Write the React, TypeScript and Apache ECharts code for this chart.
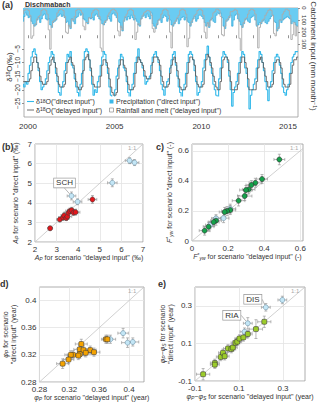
import React, { useEffect, useRef } from "react";
import * as echarts from "echarts";

const FONT = '"Liberation Sans", Arial, sans-serif';

// ---- Panel (a): monthly series ----
const START_YEAR = 1999;
const START_MONTH = 7; // first value's month (0-based)

const deltaDirect: number[] = [
  -15, -18, -19, -17, -18, -14, -11, -8, -6, -5, -7, -10,
  -13, -17, -20, -19, -18, -16, -13, -10, -8, -6, -7, -10,
  -14, -17, -21, -22, -19, -17, -13, -10, -7, -8, -6, -11,
  -12, -16, -19, -21, -23, -18, -14, -9, -6, -5, -6, -9,
  -13, -18, -22, -20, -21, -17, -15, -11, -8, -6, -7, -11,
  -14, -19, -22, -24, -23, -20, -15, -12, -9, -7, -8, -12,
  -13, -17, -21, -23, -20, -18, -14, -10, -8, -5, -9, -10,
  -12, -15, -18, -17, -16, -15, -11, -8, -7, -6, -8, -10,
  -13, -18, -20, -22, -19, -17, -16, -12, -9, -7, -6, -11,
  -15, -19, -21, -23, -20, -18, -14, -10, -7, -6, -7, -9,
  -13, -17, -22, -21, -19, -17, -12, -9, -7, -4, -8, -11,
  -14, -18, -20, -22, -24, -16, -12, -8, -6, -7, -8, -10,
  -15, -20, -26, -21, -19, -17, -14, -10, -8, -6, -7, -12,
  -14, -19, -27, -22, -20, -18, -16, -12, -9, -6, -7, -10,
  -13, -17, -20, -24, -19, -17, -13, -10, -8, -7, -8, -11,
  -14, -19, -21, -22, -20, -18, -14, -10, -8, -7, -6, -6,
];

const deltaDelayed: number[] = [
  -16, -17, -17, -17, -17, -17, -16, -13, -10, -8, -8, -10,
  -12, -15, -17, -18, -18, -18, -17, -14, -11, -9, -8, -10,
  -12, -15, -18, -19, -19, -19, -18, -14, -10, -9, -8, -10,
  -11, -14, -17, -19, -20, -20, -19, -13, -9, -8, -7, -9,
  -12, -15, -18, -19, -19, -19, -19, -15, -11, -9, -9, -10,
  -12, -16, -19, -21, -22, -22, -21, -16, -11, -9, -9, -11,
  -12, -15, -18, -20, -20, -20, -19, -14, -10, -8, -9, -10,
  -11, -13, -15, -16, -16, -16, -14, -10, -8, -8, -8, -9,
  -11, -15, -17, -19, -19, -19, -18, -14, -11, -9, -8, -10,
  -13, -16, -19, -20, -20, -20, -19, -14, -10, -8, -8, -9,
  -11, -15, -18, -19, -19, -19, -18, -13, -9, -7, -8, -10,
  -12, -15, -17, -19, -20, -20, -17, -12, -9, -8, -8, -9,
  -13, -17, -20, -20, -20, -20, -18, -14, -10, -8, -8, -10,
  -12, -16, -20, -20, -20, -20, -20, -17, -12, -9, -8, -10,
  -12, -15, -17, -19, -19, -19, -18, -14, -10, -9, -9, -10,
  -12, -16, -18, -19, -19, -19, -18, -14, -11, -9, -9, -8,
];

const precipitation: number[] = [
  90, 110, 70, 40, 60, 80, 70, 110, 130, 150, 140, 100,
  80, 120, 90, 60, 50, 90, 100, 90, 140, 160, 120, 110,
  100, 70, 60, 50, 70, 60, 80, 120, 110, 150, 170, 90,
  110, 130, 80, 70, 40, 60, 50, 90, 100, 120, 130, 80,
  90, 80, 100, 60, 50, 70, 90, 100, 130, 140, 120, 100,
  70, 90, 110, 50, 40, 60, 80, 110, 120, 160, 190, 110,
  80, 100, 70, 90, 60, 80, 100, 90, 110, 140, 150, 90,
  70, 60, 80, 50, 70, 90, 40, 130, 150, 170, 140, 100,
  100, 120, 80, 60, 70, 110, 90, 100, 140, 150, 130, 110,
  90, 130, 100, 80, 70, 100, 80, 110, 120, 150, 120, 90,
  70, 110, 90, 60, 60, 70, 90, 120, 150, 130, 160, 100,
  90, 110, 120, 60, 40, 50, 40, 80, 150, 170, 110, 100,
  80, 60, 150, 100, 60, 50, 90, 110, 140, 160, 130, 100,
  90, 110, 120, 80, 70, 60, 100, 150, 140, 120, 130, 110,
  100, 120, 130, 110, 90, 70, 60, 110, 120, 190, 170, 100,
  120, 100, 90, 80, 70, 80, 90, 130, 110, 120, 140, 150,
];

const rainfallMelt: number[] = [
  60, 50, 20, 10, 10, 20, 60, 250, 230, 140, 130, 90,
  70, 60, 20, 10, 10, 20, 50, 180, 340, 150, 110, 100,
  90, 40, 20, 10, 10, 20, 70, 200, 210, 140, 160, 90,
  100, 70, 20, 10, 10, 20, 40, 150, 180, 120, 120, 80,
  80, 40, 20, 10, 10, 20, 70, 330, 360, 130, 110, 100,
  60, 40, 20, 10, 10, 20, 40, 190, 230, 150, 180, 100,
  70, 50, 20, 10, 10, 20, 60, 260, 200, 130, 140, 90,
  60, 40, 30, 20, 20, 30, 60, 170, 200, 160, 130, 100,
  90, 50, 20, 10, 10, 20, 60, 200, 330, 140, 120, 100,
  80, 60, 20, 10, 10, 20, 50, 320, 250, 140, 110, 90,
  60, 50, 20, 10, 10, 20, 60, 200, 250, 120, 150, 100,
  80, 40, 30, 10, 10, 20, 70, 220, 230, 150, 100, 90,
  70, 30, 30, 20, 10, 20, 50, 250, 350, 150, 120, 90,
  80, 50, 20, 10, 10, 20, 50, 140, 330, 160, 120, 100,
  90, 60, 40, 20, 10, 20, 60, 210, 230, 180, 160, 100,
  100, 50, 30, 10, 10, 20, 60, 260, 220, 120, 230, 150,
];

const yearTicks = [2000, 2001, 2002, 2003, 2004, 2005, 2006, 2007, 2008, 2009, 2010, 2011, 2012, 2013, 2014, 2015];
const yearLabels = [2000, 2005, 2010, 2015];
const deltaTicks = [-25, -20, -15, -10, -5];
const inputTicks = [0, 100, 200, 300];

// ---- Panels (b)-(e): [x, y, xError, yError] ----
const bBlue = [
  [6.38, 6.15, 0.2, 0.15], [6.61, 6.05, 0.2, 0.15], [5.58, 5.02, 0.22, 0.2],
  [3.69, 4.35, 0.2, 0.2], [3.97, 4.05, 0.2, 0.15],
];
const bRed = [
  [4.66, 4.17, 0.2, 0.2], [2.7, 2.7, 0.1, 0.1], [3.15, 3.15, 0.15, 0.12],
  [3.3, 3.25, 0.2, 0.15], [3.35, 3.35, 0.15, 0.15], [3.45, 3.22, 0.15, 0.12],
  [3.5, 3.3, 0.2, 0.15], [3.55, 3.5, 0.2, 0.15], [3.62, 3.58, 0.2, 0.15],
  [3.7, 3.62, 0.2, 0.15], [3.78, 3.5, 0.2, 0.15], [3.88, 3.52, 0.2, 0.15],
];
const cGreen = [
  [0.484, 0.542, 0.03, 0.035], [0.388, 0.412, 0.03, 0.03], [0.351, 0.387, 0.035, 0.03],
  [0.329, 0.372, 0.03, 0.03], [0.314, 0.343, 0.035, 0.03], [0.299, 0.339, 0.035, 0.03],
  [0.292, 0.299, 0.04, 0.03], [0.258, 0.268, 0.035, 0.035], [0.212, 0.206, 0.03, 0.03],
  [0.194, 0.199, 0.03, 0.03], [0.181, 0.193, 0.03, 0.03], [0.133, 0.135, 0.03, 0.03],
  [0.12, 0.126, 0.03, 0.03], [0.092, 0.095, 0.03, 0.03], [0.07, 0.069, 0.03, 0.03],
];
const cBlue = [
  [0.212, 0.215, 0.03, 0.03], [0.175, 0.152, 0.03, 0.03],
  [0.133, 0.15, 0.025, 0.025], [0.1, 0.106, 0.025, 0.025],
];
const dOrange = [
  [0.336, 0.336, 0.008, 0.007], [0.334, 0.328, 0.008, 0.006], [0.339, 0.327, 0.008, 0.006],
  [0.348, 0.327, 0.008, 0.006], [0.342, 0.323, 0.008, 0.006], [0.353, 0.324, 0.008, 0.006],
  [0.334, 0.321, 0.008, 0.006], [0.332, 0.319, 0.008, 0.006], [0.325, 0.32, 0.008, 0.006],
  [0.322, 0.32, 0.008, 0.006], [0.319, 0.313, 0.007, 0.006], [0.311, 0.307, 0.008, 0.007],
  [0.369, 0.343, 0.006, 0.006], [0.371, 0.343, 0.006, 0.006],
];
const dBlue = [
  [0.375, 0.343, 0.007, 0.006], [0.392, 0.352, 0.007, 0.007],
  [0.398, 0.338, 0.008, 0.007], [0.405, 0.339, 0.008, 0.006],
];
const eGreen = [
  [-0.063, -0.064, 0.03, 0.03], [-0.01, -0.004, 0.02, 0.02], [-0.01, -0.013, 0.02, 0.02],
  [0.017, 0.028, 0.02, 0.02], [0.027, 0.05, 0.02, 0.02], [0.035, 0.032, 0.02, 0.02],
  [0.05, 0.073, 0.02, 0.02], [0.065, 0.07, 0.02, 0.02], [0.072, 0.078, 0.02, 0.02],
  [0.084, 0.103, 0.02, 0.02], [0.092, 0.109, 0.02, 0.02], [0.102, 0.126, 0.02, 0.02],
  [0.12, 0.132, 0.02, 0.02], [0.14, 0.15, 0.02, 0.02], [0.177, 0.176, 0.03, 0.05],
  [0.215, 0.215, 0.03, 0.03],
];
const eBlue = [
  [0.297, 0.331, 0.02, 0.02], [0.222, 0.292, 0.02, 0.02],
  [0.14, 0.207, 0.02, 0.03], [0.125, 0.162, 0.02, 0.02],
];
const bTicks = [2, 3, 4, 5, 6, 7];
const cTicks = [0, 0.2, 0.4, 0.6];
const dTicks = [0.28, 0.32, 0.36, 0.4];
const eTicks = [-0.1, 0.1, 0.3];
const bLabels: Record<number, string> = { 3: "SCH" };
const eLabels: Record<number, string> = { 1: "DIS", 2: "RIA" };

function monthX(i: number) {
  return START_YEAR + (START_MONTH + i) / 12;
}
function toStep(arr: number[]) {
  const pts = arr.map((v, i) => [monthX(i), v]);
  pts.push([monthX(arr.length), arr[arr.length - 1]]);
  return pts;
}

const RICH = {
  i: { fontStyle: "italic", fontSize: 7, fontFamily: FONT, color: "#333", lineHeight: 8 },
  sub: { fontSize: 5, fontFamily: FONT, color: "#333", lineHeight: 5, verticalAlign: "bottom" },
  sup: { fontSize: 5, fontFamily: FONT, color: "#333", lineHeight: 5, verticalAlign: "top" },
  isub: { fontSize: 5, fontStyle: "italic", fontFamily: FONT, color: "#333", lineHeight: 5, verticalAlign: "bottom" },
};

function errorBars(data: number[][], xi: number, yi: number) {
  return {
    type: "custom",
    xAxisIndex: xi,
    yAxisIndex: yi,
    data,
    z: 3,
    encode: { x: 0, y: 1 },
    renderItem: (_p: any, api: any) => {
      const x = api.value(0), y = api.value(1), xe = api.value(2), ye = api.value(3);
      const l = api.coord([x - xe, y]);
      const r = api.coord([x + xe, y]);
      const t = api.coord([x, y + ye]);
      const b = api.coord([x, y - ye]);
      const c = 1.5;
      const style = { stroke: "#9a9a9a", lineWidth: 0.7 };
      const ln = (x1: number, y1: number, x2: number, y2: number) => ({ type: "line", shape: { x1, y1, x2, y2 }, style });
      return {
        type: "group",
        children: [
          ln(l[0], l[1], r[0], r[1]),
          ln(l[0], l[1] - c, l[0], l[1] + c),
          ln(r[0], r[1] - c, r[0], r[1] + c),
          ln(t[0], t[1], b[0], b[1]),
          ln(t[0] - c, t[1], t[0] + c, t[1]),
          ln(b[0] - c, b[1], b[0] + c, b[1]),
        ],
      };
    },
  };
}

function scatter(data: number[][], xi: number, yi: number, color: string, border: string, symbol = "circle", labels?: Record<number, string>, offsets?: Record<number, number[]>) {
  return {
    type: "scatter",
    xAxisIndex: xi,
    yAxisIndex: yi,
    symbol,
    symbolSize: 5,
    z: 5,
    itemStyle: { color, borderColor: border, borderWidth: 0.6, opacity: 1 },
    data: data.map((d, i) =>
      labels && labels[i]
        ? {
            value: [d[0], d[1]],
            label: {
              show: true,
              formatter: labels[i],
              position: "inside",
              fontSize: 8,
              fontFamily: FONT,
              color: "#333",
              backgroundColor: "#fff",
              borderColor: "#999",
              borderWidth: 0.7,
              padding: [1, 2, 0, 2],
            },
            labelLine: { show: true, lineStyle: { color: "#999", width: 0.7 } },
          }
        : [d[0], d[1]]
    ),
    labelLayout: (p: any) => {
      const o = offsets && offsets[p.dataIndex];
      return o ? { dx: o[0], dy: o[1] } : {};
    },
  };
}

function diag(min: number, max: number, xi: number, yi: number) {
  return {
    type: "line",
    xAxisIndex: xi,
    yAxisIndex: yi,
    data: [[min, min], [max, max]],
    symbol: "none",
    silent: true,
    z: 2,
    lineStyle: { color: "#c4c4c4", width: 0.8 },
  };
}

const tickLabel = { fontSize: 8, fontFamily: FONT, color: "#333", margin: 3 };
const split = { show: true, lineStyle: { color: "#e3e3e3", width: 0.8 } };

function panelAxis(grid: number, min: number, max: number, custom: number[], name: string, isY: boolean, nameGap: number) {
  const ax: any = {
    type: "value",
    gridIndex: grid,
    min,
    max,
    axisLine: { show: false },
    axisTick: { show: false, customValues: custom },
    axisLabel: { ...tickLabel, customValues: custom, hideOverlap: false, formatter: (v: number) => String(+v.toFixed(3)) },
    splitLine: split,
    name,
    nameLocation: "middle",
    nameGap,
    nameTextStyle: { fontSize: 7, fontFamily: FONT, color: "#333", lineHeight: 8, rich: RICH },
  };
  if (isY) ax.nameRotate = 90;
  return ax;
}

function buildOption() {
  const gridBorder = { show: true, borderColor: "#9a9a9a", borderWidth: 0.8, backgroundColor: "transparent" };
  const grids = [
    { left: 24, top: 8, width: 274, height: 109, ...gridBorder },
    { left: 35, top: 144, width: 108, height: 98, ...gridBorder },
    { left: 192, top: 144, width: 111, height: 97, ...gridBorder },
    { left: 37, top: 287, width: 107, height: 95, ...gridBorder },
    { left: 195, top: 287, width: 110, height: 94, ...gridBorder },
  ];

  const xAxis: any[] = [
    {
      type: "value",
      gridIndex: 0,
      min: 1999.77,
      max: 2015.58,
      axisLine: { show: false },
      axisTick: { show: true, customValues: yearTicks, length: 3, lineStyle: { color: "#777", width: 0.8 } },
      axisLabel: { ...tickLabel, customValues: yearLabels, margin: 5, formatter: (v: number) => String(v) },
      splitLine: { show: false },
    },
    panelAxis(1, 2, 7, bTicks, '{i|A}{isub|P} for scenario "delayed input" (‰)', false, 10),
    panelAxis(2, 0, 0.615, cTicks, '{i|F}{sup|*}{isub|yw} for scenario "delayed input" (-)', false, 10),
    panelAxis(3, 0.28, 0.42, dTicks, '{i|φ}{isub|P} for scenario "delayed input" (year)', false, 9),
    panelAxis(4, -0.1, 0.4, eTicks, '{i|φ}{isub|P}−{i|φ}{isub|S} for scenario "delayed input" (year)', false, 9),
  ];

  const yAxis: any[] = [
    {
      type: "value",
      gridIndex: 0,
      min: -30,
      max: 10,
      axisLine: { show: false },
      axisTick: { show: true, customValues: deltaTicks, length: 2, lineStyle: { color: "#777", width: 0.8 } },
      axisLabel: { ...tickLabel, fontSize: 6.5, customValues: deltaTicks, hideOverlap: false, rotate: 90, margin: 3, formatter: (v: number) => String(v).replace("-", "−") },
      splitLine: { show: false },
    },
    {
      type: "value",
      gridIndex: 0,
      position: "right",
      inverse: true,
      min: 0,
      max: 900,
      axisLine: { show: false },
      axisTick: { show: true, customValues: inputTicks, length: 2, lineStyle: { color: "#777", width: 0.8 } },
      axisLabel: { ...tickLabel, fontSize: 6, customValues: inputTicks, hideOverlap: false, rotate: -90, margin: 3 },
      splitLine: { show: false },
    },
    panelAxis(1, 2, 7, bTicks, '{i|A}{isub|P} for scenario "direct input" (‰)', true, 16),
    panelAxis(2, 0, 0.645, cTicks, '{i|F}{sup|*}{isub|yw} for scenario "direct input" (-)', true, 17),
    panelAxis(3, 0.28, 0.42, dTicks, '{i|φ}{isub|P} for scenario\n"direct input" (year)', true, 16),
    panelAxis(4, -0.1, 0.4, eTicks, '{i|φ}{isub|P}−{i|φ}{isub|S} for scenario\n"direct input" (year)', true, 14),
  ];

  const series: any[] = [
    {
      type: "line",
      xAxisIndex: 0,
      yAxisIndex: 1,
      data: toStep(precipitation),
      step: "end",
      symbol: "none",
      lineStyle: { color: "#2aa5d8", width: 0.6 },
      areaStyle: { color: "#6accf2", opacity: 1 },
      z: 1,
    },
    {
      type: "line",
      xAxisIndex: 0,
      yAxisIndex: 1,
      data: toStep(rainfallMelt),
      step: "end",
      symbol: "none",
      lineStyle: { color: "#ababab", width: 0.9 },
      z: 2,
    },
    {
      type: "line",
      xAxisIndex: 0,
      yAxisIndex: 0,
      data: toStep(deltaDirect),
      step: "end",
      symbol: "none",
      lineStyle: { color: "#33b9ea", width: 1.1 },
      z: 3,
    },
    {
      type: "line",
      xAxisIndex: 0,
      yAxisIndex: 0,
      data: toStep(deltaDelayed),
      step: "end",
      symbol: "none",
      lineStyle: { color: "#5e5e5e", width: 0.9 },
      z: 4,
    },
    // (b)
    diag(2, 7, 1, 2),
    errorBars([...bBlue, ...bRed], 1, 2),
    scatter(bBlue, 1, 2, "#c3e6f6", "#6b8ea3", "circle", bLabels, { 3: [-7, -13] }),
    scatter(bRed, 1, 2, "#e3161b", "#3a3a3a"),
    // (c)
    diag(0, 0.615, 2, 3),
    errorBars([...cGreen, ...cBlue], 2, 3),
    scatter(cBlue, 2, 3, "#c3e6f6", "#6b8ea3"),
    scatter(cGreen, 2, 3, "#14a24a", "#2a2a2a"),
    // (d)
    diag(0.28, 0.42, 3, 4),
    errorBars([...dOrange, ...dBlue], 3, 4),
    scatter(dBlue, 3, 4, "#c3e6f6", "#6b8ea3"),
    scatter(dOrange, 3, 4, "#f5a300", "#3a3a3a", "roundRect"),
    // (e)
    diag(-0.1, 0.4, 4, 5),
    errorBars([...eGreen, ...eBlue], 4, 5),
    scatter(eBlue, 4, 5, "#c3e6f6", "#6b8ea3", "circle", eLabels, { 1: [-13, -8], 2: [-16, -8] }),
    scatter(eGreen, 4, 5, "#9ccc2a", "#3a3a3a", "roundRect"),
  ];

  const txt = (x: number, y: number, text: string, extra: any = {}) => ({
    type: "text",
    x,
    y,
    z: 100,
    style: { text, fontSize: 7, fontFamily: FONT, fill: "#333", verticalAlign: "middle", ...extra },
  });
  const supRich = {
    sup: { fontSize: 5, fontFamily: FONT, fill: "#333", lineHeight: 5, verticalAlign: "top" },
  };

  const graphic: any[] = [
    txt(2, 5, "(a)", { fontSize: 9, fontWeight: "bold" }),
    txt(25, 4, "Dischmabach", { fontSize: 7, fontWeight: "bold" }),
    {
      type: "text",
      x: 9,
      y: 67,
      rotation: Math.PI / 2,
      z: 100,
      style: { text: "δ{sup|18}O(‰)", fontSize: 8, fontFamily: FONT, fill: "#333", align: "center", verticalAlign: "middle", rich: supRich },
    },
    {
      type: "text",
      x: 313,
      y: 56,
      rotation: -Math.PI / 2,
      z: 100,
      style: { text: "Catchment input (mm month{sup|−1})", fontSize: 8, fontFamily: FONT, fill: "#333", align: "center", verticalAlign: "middle", rich: supRich },
    },
    // legend
    { type: "rect", z: 90, shape: { x: 25.5, y: 96.5, width: 200, height: 19.5 }, style: { fill: "#fff" } },
    { type: "line", z: 100, shape: { x1: 27, y1: 101.5, x2: 34, y2: 101.5 }, style: { stroke: "#33b9ea", lineWidth: 1.1 } },
    { type: "line", z: 100, shape: { x1: 27, y1: 110, x2: 34, y2: 110 }, style: { stroke: "#5e5e5e", lineWidth: 0.9 } },
    txt(36, 101.5, 'δ{sup|18}O("direct input")', { rich: supRich }),
    txt(36, 110, 'δ{sup|18}O("delayed input")', { rich: supRich }),
    { type: "rect", z: 100, shape: { x: 109.5, y: 99.5, width: 4, height: 4 }, style: { fill: "#3cb8e8" } },
    { type: "rect", z: 100, shape: { x: 109.5, y: 108, width: 4, height: 4 }, style: { fill: "#fff", stroke: "#999", lineWidth: 0.8 } },
    txt(116, 101.5, 'Precipitation ("direct input")'),
    txt(116, 110, 'Rainfall and melt ("delayed input")'),
    // panel letters
    txt(2, 147, "(b)", { fontSize: 9, fontWeight: "bold" }),
    txt(156, 147, "c)", { fontSize: 9, fontWeight: "bold" }),
    txt(0, 284, "d)", { fontSize: 9, fontWeight: "bold" }),
    txt(158, 284, "e)", { fontSize: 9, fontWeight: "bold" }),
    // 1:1 labels
    txt(128, 148, "1:1", { fontSize: 6, fill: "#aaa" }),
    txt(290, 148, "1:1", { fontSize: 6, fill: "#aaa" }),
    txt(128, 291, "1:1", { fontSize: 6, fill: "#aaa" }),
    txt(291, 291, "1:1", { fontSize: 6, fill: "#aaa" }),
  ];

  return {
    animation: false,
    backgroundColor: "#fff",
    textStyle: { fontFamily: FONT },
    grid: grids,
    xAxis,
    yAxis,
    series,
    graphic,
  };
}

export default function App() {
  const ref = useRef<HTMLDivElement>(null);
  useEffect(() => {
    if (!ref.current) return;
    const chart = echarts.init(ref.current, null, { renderer: "svg" });
    chart.setOption(buildOption() as any);
    return () => chart.dispose();
  }, []);
  return <div ref={ref} style={{ position: "fixed", left: 0, top: 0, width: 320, height: 404 }} />;
}
